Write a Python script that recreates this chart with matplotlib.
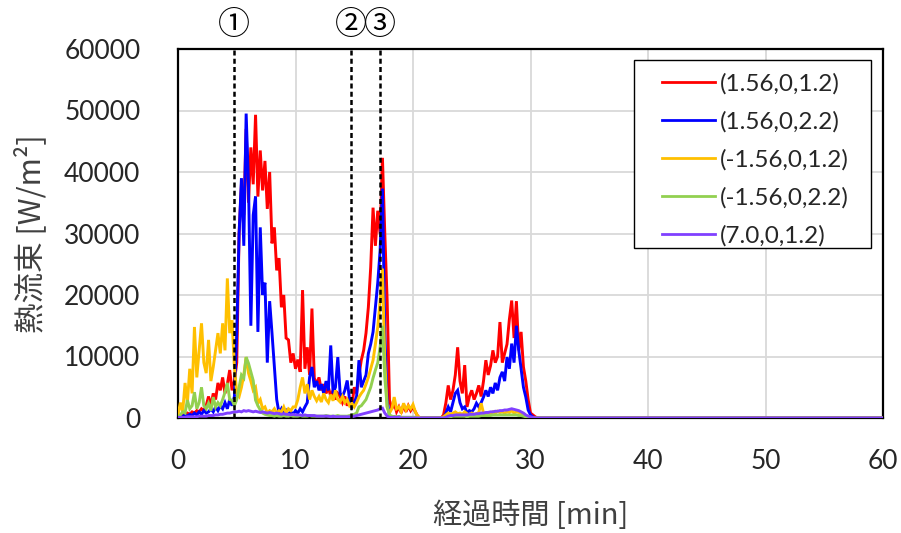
import numpy as np
import matplotlib
matplotlib.use("Agg")
import matplotlib.pyplot as plt
from matplotlib.patches import Rectangle

# time grid (min), 0.2 min step from 0 to 31 min, plus end of record at 60 min
time_min = [round(0.2 * i, 1) for i in range(156)] + [60.0]

# heat flux values in kW/m^2 (converted to W/m^2 below)
red_kw = [
    0.2, 0.4, 0.6, 0.5, 0.8, 0.6, 1.0, 0.8, 1.2, 1.0,
    1.5, 1.2, 2.0, 3.5, 2.0, 4.0, 3.0, 5.7, 4.5, 6.6,
    4.0, 5.5, 7.8, 4.5, 6.0, 9.0, 30.0, 38.0, 33.0, 47.0,
    35.0, 44.0, 38.0, 49.3, 36.0, 43.5, 37.0, 41.8, 34.0, 40.0,
    28.4, 31.0, 24.0, 26.0, 18.0, 20.0, 13.0, 12.7, 9.0, 10.5,
    8.0, 9.5, 7.5, 20.8, 8.0, 11.5, 7.0, 17.8, 6.5, 5.5,
    6.6, 4.5, 5.5, 4.0, 5.0, 3.5, 4.5, 3.0, 4.0, 3.5,
    2.5, 3.5, 2.0, 2.9, 2.0, 5.0, 4.0, 7.0, 9.4, 11.0,
    13.8, 18.0, 24.5, 34.2, 28.0, 33.7, 30.0, 42.3, 30.0, 19.1,
    2.9, 1.5, 2.4, 1.0, 1.8, 0.8, 2.2, 1.0, 2.0, 1.2,
    1.8, 1.0, 0.3, 0, 0, 0, 0, 0, 0, 0,
    0, 0, 0, 0.5, 2.5, 5.3, 3.0, 4.5, 7.0, 11.5,
    6.0, 4.0, 8.6, 1.8, 3.5, 4.5, 3.0, 4.0, 5.3, 3.5,
    6.0, 9.4, 7.0, 8.5, 11.0, 9.0, 10.0, 15.6, 9.0, 10.5,
    12.0, 16.0, 19.1, 13.0, 19.0, 11.0, 14.0, 8.3, 6.0, 3.0,
    0.8, 0.5, 0.2, 0, 0, 0, 0,
]
blue_kw = [
    0.1, 0.2, 0.3, 0.5, 0.3, 0.6, 0.4, 0.8, 0.5, 1.0,
    0.6, 1.2, 0.8, 1.0, 1.5, 1.0, 1.8, 1.2, 2.0, 1.5,
    2.5, 1.5, 3.0, 2.0, 3.5, 13.8, 30.0, 39.0, 28.0, 49.5,
    38.0, 15.0, 33.0, 36.0, 14.0, 31.0, 20.0, 22.0, 9.0, 19.0,
    13.8, 8.3, 3.0, 0.8, 1.5, 0.6, 1.2, 0.5, 1.0, 0.6,
    1.2, 0.8, 1.5, 1.0, 1.8, 2.5, 6.6, 8.3, 5.0, 6.0,
    4.5, 5.5, 4.0, 6.0, 4.5, 11.8, 4.0, 5.0, 9.9, 4.0,
    3.5, 4.5, 6.1, 3.0, 1.8, 2.5, 3.5, 9.4, 5.0, 6.0,
    7.0, 10.5, 12.0, 14.0, 18.0, 22.0, 27.2, 37.3, 13.8, 2.9,
    0.3, 0.1, 0.2, 0.1, 0.2, 0.1, 0.1, 0.1, 0.1, 0.1,
    0.1, 0.1, 0, 0, 0, 0, 0, 0, 0, 0,
    0, 0, 0, 0, 0.8, 1.8, 1.0, 2.5, 4.0, 4.5,
    2.5, 1.5, 1.8, 0.8, 1.2, 1.0, 1.5, 2.4, 1.8, 2.5,
    3.4, 4.5, 3.5, 5.0, 4.0, 5.7, 4.5, 6.6, 7.5, 6.0,
    9.9, 8.0, 12.1, 9.0, 15.0, 11.0, 8.0, 5.0, 3.4, 1.3,
    0.5, 0.2, 0, 0, 0, 0, 0,
]
yellow_kw = [
    0.5, 2.5, 1.0, 5.7, 2.5, 8.0, 4.0, 14.8, 6.6, 11.0,
    15.4, 9.0, 7.3, 12.7, 6.0, 8.3, 11.0, 13.8, 10.5, 15.4,
    11.0, 22.7, 13.8, 15.9, 8.3, 4.0, 3.5, 5.0, 7.0, 9.9,
    7.3, 6.0, 4.5, 5.0, 2.4, 3.0, 1.5, 1.8, 0.8, 1.2,
    1.0, 1.5, 0.8, 1.2, 1.0, 1.8, 0.8, 1.5, 1.2, 1.8,
    1.8, 3.0, 5.0, 6.6, 4.0, 5.5, 3.0, 4.5, 3.5, 2.8,
    3.5, 2.6, 4.0, 3.0, 2.5, 3.8, 2.8, 4.5, 3.0, 2.6,
    3.5, 2.5, 3.0, 2.0, 2.4, 1.8, 2.5, 3.4, 4.0, 4.5,
    5.5, 6.6, 8.0, 9.4, 12.0, 14.8, 19.0, 24.3, 9.4, 1.8,
    0.8, 1.5, 3.4, 1.5, 1.8, 1.0, 2.4, 1.3, 2.0, 1.5,
    2.2, 1.0, 0.3, 0, 0, 0, 0, 0, 0, 0,
    0, 0, 0, 0.2, 0.5, 0.8, 0.6, 0.8, 1.0, 0.7,
    0.8, 0.6, 1.0, 0.7, 0.5, 0.8, 0.6, 0.7, 0.9, 2.4,
    0.8, 0.6, 0.9, 0.7, 1.0, 0.8, 1.1, 0.9, 1.0, 0.8,
    1.0, 0.9, 1.2, 0.8, 1.0, 0.9, 0.8, 0.6, 0.4, 0.2,
    0.1, 0, 0, 0, 0, 0, 0,
]
green_kw = [
    0.2, 0.5, 1.0, 0.8, 2.9, 1.5, 2.0, 4.2, 1.5, 2.5,
    5.0, 2.0, 1.5, 2.4, 1.2, 3.4, 1.8, 2.5, 2.0, 3.0,
    4.2, 5.7, 3.0, 2.9, 2.0, 3.0, 5.0, 7.0, 6.5, 9.9,
    8.9, 7.5, 6.1, 2.9, 2.0, 1.3, 0.8, 0.6, 0.5, 0.4,
    0.4, 0.3, 0.4, 0.3, 0.3, 0.4, 0.3, 0.3, 0.4, 0.3,
    0.3, 0.3, 0.4, 0.3, 0.3, 0.3, 0.4, 0.3, 0.3, 0.3,
    0.3, 0.3, 0.3, 0.4, 0.3, 0.3, 0.3, 0.3, 0.4, 0.3,
    0.3, 0.3, 0.3, 0.4, 0.5, 0.6, 0.8, 1.8, 2.0, 2.5,
    3.0, 4.0, 5.0, 6.5, 7.8, 9.0, 11.5, 15.0, 6.6, 1.8,
    0.5, 0.3, 0.2, 0.2, 0.2, 0.1, 0.1, 0.1, 0.1, 0.1,
    0.1, 0.1, 0, 0, 0, 0, 0, 0, 0, 0,
    0, 0, 0, 0, 0.1, 0.2, 0.2, 0.3, 0.3, 0.3,
    0.3, 0.3, 0.3, 0.2, 0.3, 0.3, 0.3, 0.3, 0.3, 0.4,
    0.4, 0.4, 0.4, 0.4, 0.5, 0.5, 0.5, 0.5, 0.5, 0.5,
    0.5, 0.5, 0.5, 0.5, 0.5, 0.4, 0.4, 0.3, 0.2, 0.1,
    0.1, 0, 0, 0, 0, 0, 0,
]
purple_kw = [
    0.1, 0.1, 0.1, 0.1, 0.2, 0.2, 0.2, 0.2, 0.2, 0.3,
    0.3, 0.3, 0.3, 0.4, 0.4, 0.4, 0.5, 0.5, 0.6, 0.6,
    0.7, 0.8, 0.8, 0.9, 1.0, 1.0, 1.1, 1.0, 1.2, 1.1,
    1.2, 1.1, 1.0, 1.1, 1.0, 0.9, 1.0, 0.9, 0.8, 0.9,
    0.8, 0.7, 0.8, 0.7, 0.6, 0.7, 0.6, 0.6, 0.5, 0.6,
    0.5, 0.5, 0.5, 0.4, 0.5, 0.4, 0.4, 0.4, 0.4, 0.3,
    0.3, 0.3, 0.3, 0.3, 0.3, 0.2, 0.3, 0.2, 0.2, 0.2,
    0.2, 0.2, 0.2, 0.2, 0.2, 0.3, 0.4, 0.5, 0.6, 0.7,
    0.8, 0.9, 1.0, 1.1, 1.2, 1.3, 1.5, 1.6, 0.8, 0.3,
    0.1, 0.1, 0.1, 0.1, 0.1, 0, 0, 0, 0, 0,
    0, 0, 0, 0, 0, 0, 0, 0, 0, 0,
    0, 0, 0, 0, 0.1, 0.3, 0.4, 0.4, 0.5, 0.5,
    0.5, 0.5, 0.5, 0.5, 0.6, 0.6, 0.6, 0.7, 0.7, 0.8,
    0.8, 0.9, 0.9, 1.0, 1.0, 1.1, 1.1, 1.2, 1.2, 1.3,
    1.3, 1.4, 1.5, 1.4, 1.3, 1.2, 1.0, 0.8, 0.5, 0.3,
    0.2, 0.1, 0, 0, 0, 0, 0,
]

series_labels = ["(1.56,0,1.2)", "(1.56,0,2.2)", "(-1.56,0,1.2)",
                 "(-1.56,0,2.2)", "(7.0,0,1.2)"]
series_colors = ["#FF0000", "#0000FF", "#FFC000", "#92D050", "#8040FF"]
series_kw = [red_kw, blue_kw, yellow_kw, green_kw, purple_kw]

event_times = [4.75, 14.75, 17.2]
event_marks = ["①", "②", "③"]

x_ticks = [0, 10, 20, 30, 40, 50, 60]
y_ticks = [0, 10000, 20000, 30000, 40000, 50000, 60000]

NUM_FONT = ["Lato", "DejaVu Sans"]
JP_FONT = ["Noto Sans CJK JP", "DejaVu Sans"]

fig = plt.figure(figsize=(9.01, 5.33), dpi=100)
ax = fig.add_axes([178 / 901, 1 - 418 / 533, 705 / 901, 369 / 533])

t = np.array(time_min)
for vals, lab, col in zip(series_kw, series_labels, series_colors):
    ax.plot(t, np.array(vals) * 1000.0, color=col, lw=2.1, label=lab,
            solid_joinstyle="miter", zorder=3)

for et in event_times:
    ax.axvline(et, color="black", lw=1.8, ls=(0, (2, 1.3)), zorder=4)

ax.set_xlim(0, 60)
ax.set_ylim(0, 60000)
ax.set_xticks(x_ticks)
ax.set_yticks(y_ticks)
ax.set_xticklabels([str(v) for v in x_ticks], fontfamily=NUM_FONT, fontsize=19)
ax.set_yticklabels([str(v) for v in y_ticks], fontfamily=NUM_FONT, fontsize=19)
ax.tick_params(axis="both", length=0, colors="#262626")
ax.tick_params(axis="y", pad=27)
ax.tick_params(axis="x", pad=22)

ax.grid(True, color="#D9D9D9", lw=1.3, zorder=0)
ax.set_axisbelow(True)
for side in ["left", "top", "right", "bottom"]:
    ax.spines[side].set_color("black")
    ax.spines[side].set_linewidth(1.6)

ax.set_xlabel("経過時間 [min]", fontfamily=JP_FONT, fontsize=21, color="#404040",
              labelpad=20)
ax.set_ylabel("熱流束 [W/m²]", fontfamily=JP_FONT, fontsize=22, color="#404040",
              labelpad=12)

for et, mk in zip(event_times, event_marks):
    ax.annotate(mk, xy=(et, 60000), xycoords="data", xytext=(0, 17),
                textcoords="offset points", ha="center", va="center",
                fontfamily=JP_FONT, fontsize=23, color="black",
                annotation_clip=False)

# legend frame (white box with black edge), entries placed inside it
W, H, X0 = 705.0, 369.0, 178.0
ax.add_patch(Rectangle(((634 - X0) / W, (418 - 248) / H), 237 / W, 188 / H,
                       transform=ax.transAxes, facecolor="white",
                       edgecolor="black", lw=1.0, zorder=5, clip_on=False))
leg = ax.legend(loc="upper left", bbox_to_anchor=((662 - X0) / W, (418 - 73) / H),
                prop={"family": NUM_FONT, "size": 17.5}, frameon=False,
                handlelength=2.2, handletextpad=0.2, labelspacing=0.68,
                borderpad=0, borderaxespad=0)
leg.set_zorder(6)
for line in leg.get_lines():
    line.set_linewidth(2.0)
for txt in leg.get_texts():
    txt.set_color("#262626")

fig.savefig("out.png", dpi=100)
